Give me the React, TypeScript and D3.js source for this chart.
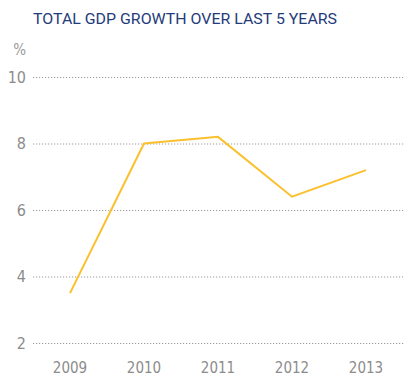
import React from "react";
import * as d3 from "d3";

const years = ["2009", "2010", "2011", "2012", "2013"];
const gdpGrowth = [3.5, 8.0, 8.2, 6.4, 7.2];
const yTicks = [2, 4, 6, 8, 10];
const title = "TOTAL GDP GROWTH OVER LAST 5 YEARS";
const unitLabel = "%";

export default function App() {
  const W = 406;
  const H = 378;
  const x = d3.scalePoint<string>().domain(years).range([70, 366]);
  const y = d3.scaleLinear().domain([2, 10]).range([343, 77]);
  const line = d3
    .line<number>()
    .x((_, i) => x(years[i]) as number)
    .y((d) => y(d));
  const font = "'DejaVu Sans Condensed', 'Liberation Sans Narrow', Roboto, sans-serif";
  const titleFont = "Roboto, 'Liberation Sans Narrow', sans-serif";
  return (
    <svg
      width={W}
      height={H}
      style={{ position: "absolute", left: 0, top: 0, background: "#fff" }}
    >
      <text
        x={33}
        y={24}
        fill="#243b7a"
        fontFamily={titleFont}
        fontSize={15.5}
        textLength={304}
        lengthAdjust="spacingAndGlyphs"
      >
        {title}
      </text>
      <text x={26} y={55} textAnchor="end" fill="#9a9a9a" fontFamily={font} fontSize={15}>
        {unitLabel}
      </text>
      {yTicks.map((t) => (
        <g key={t}>
          <line
            x1={33}
            x2={404}
            y1={y(t) + 0.5}
            y2={y(t) + 0.5}
            stroke="#9a9a9a"
            strokeWidth={1}
            strokeDasharray="1.2,1.8"
          />
          <text
            x={26}
            y={y(t)}
            dy="0.36em"
            textAnchor="end"
            fill="#8c8c8c"
            fontFamily={font}
            fontSize={16}
          >
            {t}
          </text>
        </g>
      ))}
      {years.map((yr) => (
        <text
          key={yr}
          x={x(yr) as number}
          y={373}
          textAnchor="middle"
          fill="#8c8c8c"
          fontFamily={font}
          fontSize={15}
        >
          {yr}
        </text>
      ))}
      <path
        d={line(gdpGrowth) ?? ""}
        fill="none"
        stroke="#fbc02d"
        strokeWidth={2}
        strokeLinejoin="miter"
      />
    </svg>
  );
}
